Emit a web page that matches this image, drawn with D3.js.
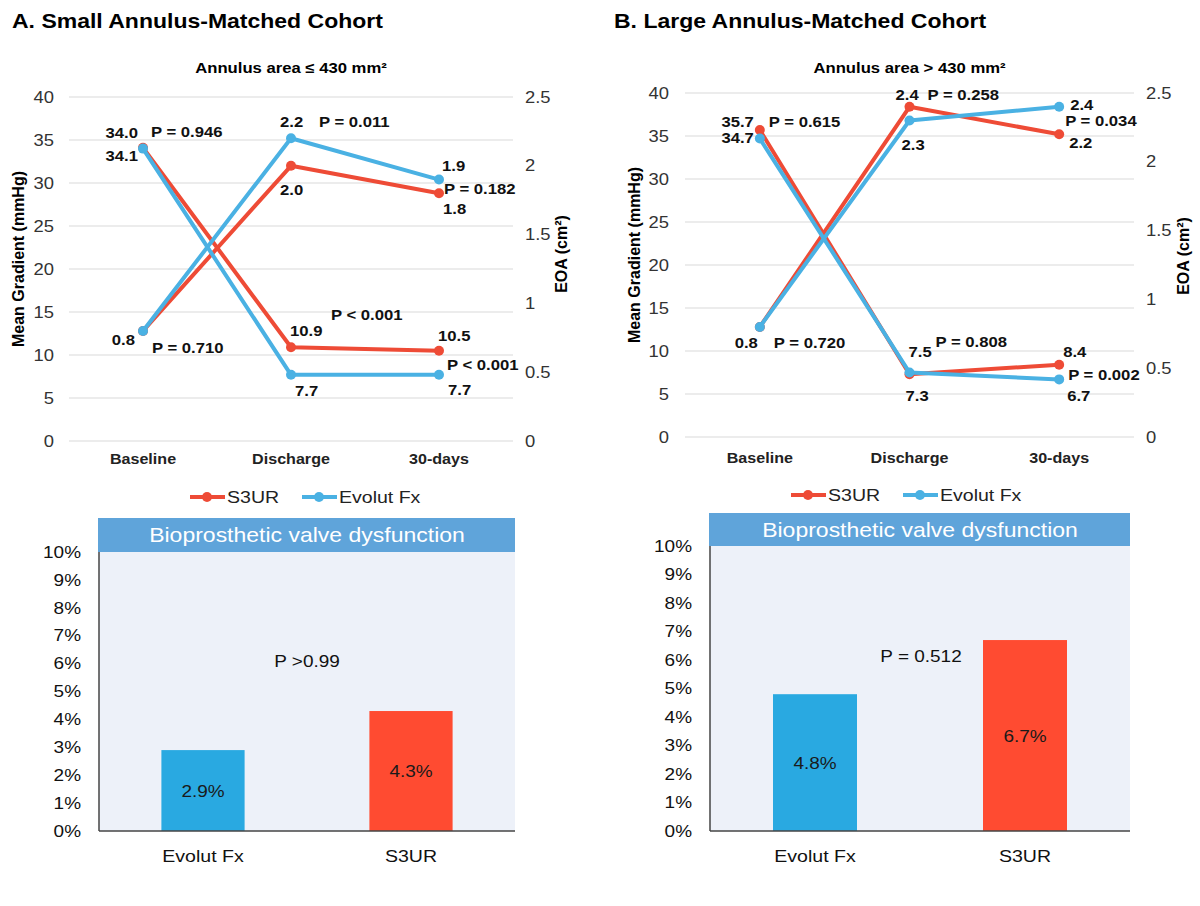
<!DOCTYPE html>
<html><head><meta charset="utf-8">
<script src="https://cdn.jsdelivr.net/npm/d3@7"></script>
<style>
html,body{margin:0;padding:0;background:#fff;}
svg{display:block;font-family:"Liberation Sans",Arial,sans-serif;}
</style></head>
<body>
<svg id="chart" width="1200" height="906"></svg>
<script>
// ---------- DATA ----------
const timepoints = ["Baseline", "Discharge", "30-days"];
const gradientTicks = [0, 5, 10, 15, 20, 25, 30, 35, 40];
const eoaTicks = [0, 0.5, 1, 1.5, 2, 2.5];
const barTicks = [0, 1, 2, 3, 4, 5, 6, 7, 8, 9, 10];
const valves = ["Evolut Fx", "S3UR"];

// Small annulus cohort (panel A)
const smallGradientS3UR = [34.1, 10.9, 10.5];
const smallGradientEvolut = [34.0, 7.7, 7.7];
const smallEoaS3UR = [0.8, 2.0, 1.8];
const smallEoaEvolut = [0.8, 2.2, 1.9];
const smallDysfunction = [2.9, 4.3]; // Evolut Fx, S3UR (%)

// Large annulus cohort (panel B)
const largeGradientS3UR = [35.7, 7.3, 8.4];
const largeGradientEvolut = [34.7, 7.5, 6.7];
const largeEoaS3UR = [0.8, 2.4, 2.2];
const largeEoaEvolut = [0.8, 2.3, 2.4];
const largeDysfunction = [4.8, 6.7];

const smallPValues = ["P = 0.946", "P = 0.710", "P = 0.011", "P < 0.001", "P = 0.182", "P < 0.001"];
const largePValues = ["P = 0.615", "P = 0.720", "P = 0.258", "P = 0.808", "P = 0.034", "P = 0.002"];
const smallBarP = "P >0.99";
const largeBarP = "P = 0.512";

// ---------- STYLE ----------
const RED = "#EE4B36", BLUE = "#4AB1E3";
const BAR_BLUE = "#29A9E1", BAR_RED = "#FF4B31";
const SX = 1.15; // horizontal glyph stretch seen in the reference

const svg = d3.select("#chart");

function txt(g, x, y, s, o) {
  o = o || {};
  return g.append("text")
    .attr("transform", `translate(${x},${y}) scale(${SX},1)`)
    .attr("text-anchor", o.anchor || "start")
    .attr("font-size", o.size || 14)
    .attr("font-weight", o.bold ? "bold" : "normal")
    .attr("fill", o.fill || "#000")
    .text(s);
}

function linePanel(cfg) {
  const g = svg.append("g");
  const x = d3.scaleBand().domain(timepoints).range([cfg.x0, cfg.x1]);
  const yG = d3.scaleLinear().domain([0, 40]).range([cfg.yBottom, cfg.yTop]);
  const yE = d3.scaleLinear().domain([0, 2.5]).range([cfg.yBottom, cfg.yTop]);
  const cx = c => x(c) + x.bandwidth() / 2;

  // title & subtitle
  txt(g, cfg.titleX, 28, cfg.title, {size: 20, bold: true});
  txt(g, (cfg.x0 + cfg.x1) / 2, 73, cfg.subtitle, {size: 14.5, bold: true, anchor: "middle"});

  // gridlines
  g.append("g").selectAll("line").data(gradientTicks).join("line")
    .attr("x1", cfg.x0).attr("x2", cfg.x1)
    .attr("y1", d => yG(d)).attr("y2", d => yG(d))
    .attr("stroke", "#D9D9D9").attr("stroke-width", 1.2);

  // left axis
  const la = g.append("g").attr("transform", `translate(${cfg.leftLabelX},0)`)
    .call(d3.axisLeft(yG).tickValues(gradientTicks).tickSize(0).tickPadding(0));
  la.select(".domain").remove();
  la.selectAll("text").attr("font-size", 16).attr("fill", "#333").attr("font-family", null)
    .attr("transform", `scale(${SX},1)`);

  // right axis
  const ra = g.append("g").attr("transform", `translate(${cfg.rightLabelX},0)`)
    .call(d3.axisRight(yE).tickValues(eoaTicks).tickSize(0).tickPadding(0).tickFormat(d3.format("")));
  ra.select(".domain").remove();
  ra.selectAll("text").attr("font-size", 16).attr("fill", "#333").attr("font-family", null)
    .attr("transform", `scale(${SX},1)`);

  // category axis
  const ba = g.append("g").attr("transform", `translate(0,${cfg.catY})`)
    .call(d3.axisBottom(x).tickSize(0).tickPadding(0));
  ba.select(".domain").remove();
  ba.selectAll("text").attr("y", 0).attr("dy", 0).attr("font-size", 14).attr("font-weight", "bold")
    .attr("fill", "#222").attr("font-family", null).attr("transform", `scale(${SX},1)`);

  // axis titles
  g.append("text").attr("transform", `translate(${cfg.gTitleX},${cfg.gTitleY}) rotate(-90)`)
    .attr("text-anchor", "middle").attr("font-size", 16).attr("font-weight", "bold")
    .attr("dy", "0.35em").text("Mean Gradient (mmHg)");
  g.append("text").attr("transform", `translate(${cfg.eTitleX},${cfg.eTitleY}) rotate(-90)`)
    .attr("text-anchor", "middle").attr("font-size", 16).attr("font-weight", "bold")
    .attr("dy", "0.35em").text("EOA (cm²)");

  // series
  const series = [
    {vals: cfg.eoaS3UR, y: yE, c: RED},
    {vals: cfg.gradS3UR, y: yG, c: RED},
    {vals: cfg.eoaEvolut, y: yE, c: BLUE},
    {vals: cfg.gradEvolut, y: yG, c: BLUE}
  ];
  series.forEach(s => {
    const pts = timepoints.map((t, i) => [cx(t), s.y(s.vals[i])]);
    g.append("path").attr("d", d3.line()(pts)).attr("fill", "none")
      .attr("stroke", s.c).attr("stroke-width", 4).attr("stroke-linejoin", "round");
    g.append("g").selectAll("circle").data(pts).join("circle")
      .attr("cx", d => d[0]).attr("cy", d => d[1]).attr("r", 5).attr("fill", s.c);
  });

  // labels
  cfg.labels.forEach(l => {
    txt(g, cx(timepoints[l.cat]) + l.dx, l.y, l.t, {size: 14.5, bold: true, anchor: l.anchor || "start", fill: "#111"});
  });

  // legend
  const lg = g.append("g");
  [[RED, "S3UR", cfg.legX[0]], [BLUE, "Evolut Fx", cfg.legX[1]]].forEach(([c, name, lx]) => {
    lg.append("line").attr("x1", lx).attr("x2", lx + 35).attr("y1", cfg.legY).attr("y2", cfg.legY)
      .attr("stroke", c).attr("stroke-width", 4);
    lg.append("circle").attr("cx", lx + 17).attr("cy", cfg.legY).attr("r", 5).attr("fill", c);
    txt(lg, lx + 37, cfg.legY + 6, name, {size: 17, fill: "#222"});
  });
}

function barPanel(cfg) {
  const g = svg.append("g");
  const x = d3.scaleBand().domain(valves).range([cfg.x0, cfg.x1]);
  const y = d3.scaleLinear().domain([0, 10]).range([cfg.yBottom, cfg.yTop]);

  g.append("rect").attr("x", cfg.x0).attr("y", y(10)).attr("width", cfg.x1 - cfg.x0)
    .attr("height", cfg.yBottom - y(10)).attr("fill", "#EDF1F9");
  g.append("rect").attr("x", cfg.x0 - 1).attr("y", cfg.headTop).attr("width", cfg.x1 - cfg.x0 + 1)
    .attr("height", y(10) - cfg.headTop).attr("fill", "#5FA4DA");
  txt(g, (cfg.x0 + cfg.x1) / 2, (cfg.headTop + y(10)) / 2 + 7, "Bioprosthetic valve dysfunction",
      {size: 20, anchor: "middle", fill: "#fff"});

  const cols = [BAR_BLUE, BAR_RED];
  g.append("g").selectAll("rect").data(cfg.values).join("rect")
    .attr("x", (d, i) => x(valves[i]) + x.bandwidth() * 0.3)
    .attr("width", x.bandwidth() * 0.4)
    .attr("y", d => y(d)).attr("height", d => cfg.yBottom - y(d))
    .attr("fill", (d, i) => cols[i]);
  cfg.values.forEach((v, i) => {
    txt(g, x(valves[i]) + x.bandwidth() / 2, (y(v) + cfg.yBottom) / 2 + 6, v.toFixed(1) + "%",
        {size: 16.5, anchor: "middle", fill: "#1a1a1a"});
  });

  const la = g.append("g").attr("transform", `translate(${cfg.tickX},0)`)
    .call(d3.axisLeft(y).tickValues(barTicks).tickSize(0).tickPadding(0).tickFormat(d => d + "%"));
  la.select(".domain").remove();
  la.selectAll("text").attr("font-size", 16.5).attr("fill", "#111").attr("font-family", null)
    .attr("transform", `scale(${SX},1)`);

  // axis lines
  g.append("line").attr("x1", cfg.x0).attr("x2", cfg.x0).attr("y1", y(10)).attr("y2", cfg.yBottom)
    .attr("stroke", "#444").attr("stroke-width", 1.5);
  g.append("line").attr("x1", cfg.x0).attr("x2", cfg.x1).attr("y1", cfg.yBottom).attr("y2", cfg.yBottom)
    .attr("stroke", "#444").attr("stroke-width", 1.5);

  const ba = g.append("g").attr("transform", `translate(0,862)`)
    .call(d3.axisBottom(x).tickSize(0).tickPadding(0));
  ba.select(".domain").remove();
  ba.selectAll("text").attr("y", 0).attr("dy", 0).attr("font-size", 17).attr("fill", "#111")
    .attr("font-family", null).attr("transform", `scale(${SX},1)`);

  txt(g, cfg.pX, cfg.pY, cfg.p, {size: 16.5, anchor: "middle", fill: "#111"});
}

linePanel({
  title: "A. Small Annulus-Matched Cohort", titleX: 12,
  subtitle: "Annulus area ≤ 430 mm²",
  x0: 69, x1: 513, yTop: 97, yBottom: 441,
  leftLabelX: 54, rightLabelX: 525, catY: 464,
  gTitleX: 18, gTitleY: 259, eTitleX: 561, eTitleY: 254,
  gradS3UR: smallGradientS3UR, gradEvolut: smallGradientEvolut,
  eoaS3UR: smallEoaS3UR, eoaEvolut: smallEoaEvolut,
  legX: [190, 302], legY: 497,
  labels: [
    {t: "34.0", cat: 0, dx: -5, y: 138, anchor: "end"},
    {t: smallPValues[0], cat: 0, dx: 8, y: 137},
    {t: "34.1", cat: 0, dx: -5, y: 161, anchor: "end"},
    {t: "0.8", cat: 0, dx: -8, y: 345, anchor: "end"},
    {t: smallPValues[1], cat: 0, dx: 9, y: 353},
    {t: "2.2", cat: 1, dx: -11, y: 127},
    {t: smallPValues[2], cat: 1, dx: 28, y: 127},
    {t: "2.0", cat: 1, dx: -11, y: 195},
    {t: "10.9", cat: 1, dx: -1, y: 336},
    {t: smallPValues[3], cat: 1, dx: 40, y: 320},
    {t: "7.7", cat: 1, dx: 4, y: 396},
    {t: "1.9", cat: 2, dx: 3, y: 171},
    {t: smallPValues[4], cat: 2, dx: 5, y: 194},
    {t: "1.8", cat: 2, dx: 4, y: 214},
    {t: "10.5", cat: 2, dx: -1, y: 341},
    {t: smallPValues[5], cat: 2, dx: 8, y: 370},
    {t: "7.7", cat: 2, dx: 9, y: 395}
  ]
});

linePanel({
  title: "B. Large Annulus-Matched Cohort", titleX: 614,
  subtitle: "Annulus area > 430 mm²",
  x0: 685, x1: 1134, yTop: 93, yBottom: 437,
  leftLabelX: 669, rightLabelX: 1146, catY: 463,
  gTitleX: 634, gTitleY: 255, eTitleX: 1183, eTitleY: 256,
  gradS3UR: largeGradientS3UR, gradEvolut: largeGradientEvolut,
  eoaS3UR: largeEoaS3UR, eoaEvolut: largeEoaEvolut,
  legX: [791, 903], legY: 495,
  labels: [
    {t: "35.7", cat: 0, dx: -6, y: 127, anchor: "end"},
    {t: largePValues[0], cat: 0, dx: 9, y: 127},
    {t: "34.7", cat: 0, dx: -6, y: 143, anchor: "end"},
    {t: "0.8", cat: 0, dx: -2, y: 348, anchor: "end"},
    {t: largePValues[1], cat: 0, dx: 14, y: 348},
    {t: "2.4", cat: 1, dx: -14, y: 100},
    {t: largePValues[2], cat: 1, dx: 18, y: 100},
    {t: "2.3", cat: 1, dx: -8, y: 150},
    {t: "7.5", cat: 1, dx: -1, y: 357},
    {t: largePValues[3], cat: 1, dx: 26, y: 347},
    {t: "7.3", cat: 1, dx: -4, y: 401},
    {t: "2.4", cat: 2, dx: 11, y: 110},
    {t: largePValues[4], cat: 2, dx: 6, y: 126},
    {t: "2.2", cat: 2, dx: 10, y: 148},
    {t: "8.4", cat: 2, dx: 4, y: 357},
    {t: largePValues[5], cat: 2, dx: 9, y: 380},
    {t: "6.7", cat: 2, dx: 8, y: 401}
  ]
});

barPanel({
  values: smallDysfunction, x0: 99, x1: 515, yTop: 552, yBottom: 831, headTop: 518,
  tickX: 81, p: smallBarP, pX: 307, pY: 667
});
barPanel({
  values: largeDysfunction, x0: 710, x1: 1130, yTop: 546, yBottom: 831, headTop: 513,
  tickX: 692, p: largeBarP, pX: 921, pY: 662
});
</script>
</body></html>
